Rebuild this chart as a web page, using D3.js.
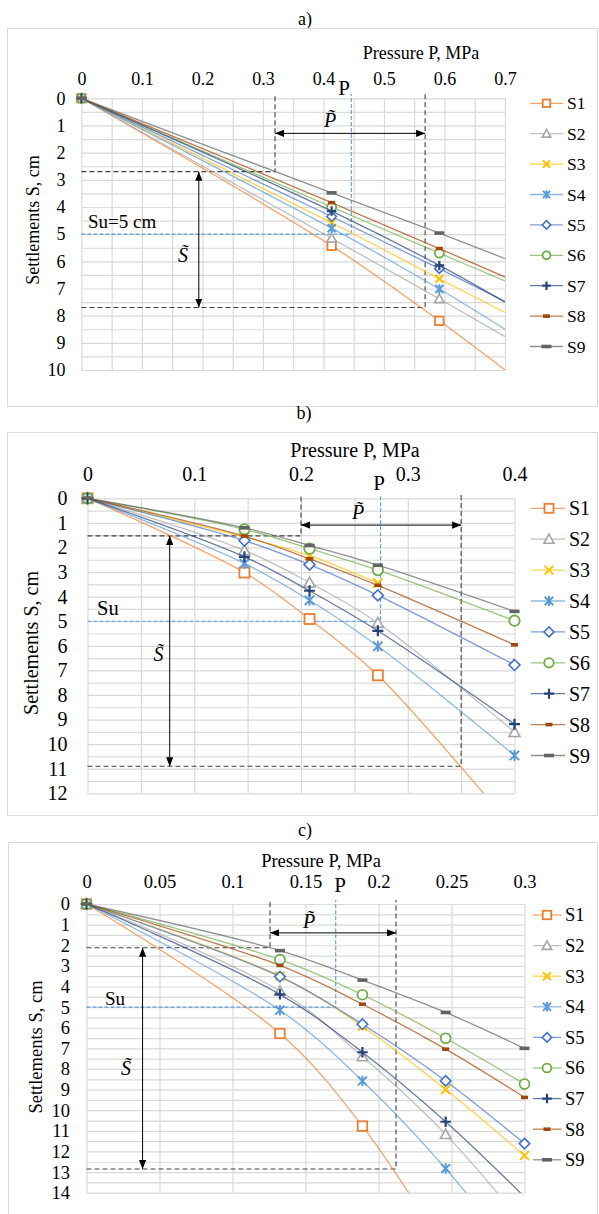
<!DOCTYPE html>
<html>
<head>
<meta charset="utf-8">
<script src="https://cdnjs.cloudflare.com/ajax/libs/d3/7.8.5/d3.min.js"></script>
<style>
body { margin: 0; background: #fff; }
svg { display: block; }
svg text { font-family: "Liberation Serif", "Times New Roman", serif; }
</style>
</head>
<body>
<svg id="chart" width="599" height="1214" font-family="Liberation Serif, serif"></svg>
<script>
// ---- data ----
var seriesNames = ["S1", "S2", "S3", "S4", "S5", "S6", "S7", "S8", "S9"];
var seriesColors = ["#ED7D31", "#A5A5A5", "#FFC000", "#5B9BD5", "#4472C4", "#70AD47", "#264478", "#9E480E", "#636363"];
var seriesShapes = ["square", "triangle", "x", "asterisk", "diamond", "circle", "plus", "shortDash", "longDash"];

// a)
var pressureA = [0, 0.4135, 0.5915, 0.7];
var markedA = [true, true, true, false];   // last point = trend end, no marker
var settlementA = [
  [0, 5.43, 8.19, 10.0],
  [0, 5.15, 7.38, 8.77],
  [0, 4.58, 6.64, 7.88],
  [0, 4.78, 7.02, 8.5],
  [0, 4.35, 6.27, 7.48],
  [0, 4.0, 5.7, 6.72],
  [0, 4.15, 6.15, 7.5],
  [0, 3.84, 5.53, 6.58],
  [0, 3.48, 4.96, 5.9]
];
var xTicksA = [0, 0.1, 0.2, 0.3, 0.4, 0.5, 0.6, 0.7];
var xLabelsA = ["0", "0.1", "0.2", "0.3", "0.4", "0.5", "0.6", "0.7"];
var yTicksA = [0, 1, 2, 3, 4, 5, 6, 7, 8, 9, 10];
var annotA = { pLo: 0.32, pHi: 0.568, sLo: 2.7, sHi: 7.7, pU: 0.446, sU: 5, arrowS: 1.29, arrowP: 0.194 };

// b)
var pressureB = [0, 0.147, 0.208, 0.272, 0.4];
var markedB = [true, true, true, true, true];
var settlementB = [
  [0, 3.02, 4.91, 7.2, 13.5],
  [0, 2.12, 3.43, 5.07, 9.51],
  [0, 1.58, 2.33, 3.45, null],
  [0, 2.65, 4.15, 6.02, 10.46],
  [0, 1.72, 2.7, 3.95, 6.78],
  [0, 1.26, 2.05, 2.92, 4.98],
  [0, 2.38, 3.76, 5.39, 9.19],
  [0, 1.54, 2.46, 3.54, 5.96],
  [0, 1.2, 1.92, 2.72, 4.6]
];
var xTicksB = [0, 0.1, 0.2, 0.3, 0.4];
var xLabelsB = ["0", "0.1", "0.2", "0.3", "0.4"];
var yTicksB = [0, 1, 2, 3, 4, 5, 6, 7, 8, 9, 10, 11, 12];
var annotB = { pLo: 0.2, pHi: 0.35, sLo: 1.53, sHi: 10.9, pU: 0.2745, sU: 5, arrowS: 1.09, arrowP: 0.077 };

// c)
var pressureC = [0, 0.1325, 0.189, 0.246, 0.3];
var markedC = [true, true, true, true, true];
var settlementC = [
  [0, 6.28, 10.77, 16.8, null],
  [0, 4.22, 7.4, 11.17, 15.6],
  [0, 3.5, 5.93, 9.0, 12.2],
  [0, 5.15, 8.58, 12.83, 17.6],
  [0, 3.52, 5.83, 8.58, 11.62],
  [0, 2.7, 4.4, 6.51, 8.73],
  [0, 4.38, 7.19, 10.56, 14.2],
  [0, 2.98, 4.86, 7.04, 9.38],
  [0, 2.26, 3.69, 5.26, 7.0]
];
var xTicksC = [0, 0.05, 0.1, 0.15, 0.2, 0.25, 0.3];
var xLabelsC = ["0", "0.05", "0.1", "0.15", "0.2", "0.25", "0.3"];
var yTicksC = [0, 1, 2, 3, 4, 5, 6, 7, 8, 9, 10, 11, 12, 13, 14];
var annotC = { pLo: 0.1257, pHi: 0.212, sLo: 2.12, sHi: 12.85, pU: 0.1707, sU: 5, arrowS: 1.4, arrowP: 0.0384 };

// ---- layout ----
var layoutA = {
  id: "a", title: "a)", titleX: 305, titleY: 25, frame: [7, 28, 590, 378],
  left: 81.4, right: 505, top: 98.3, bottom: 370, font: 18, legendFont: 17.5,
  xPad: 13, yPad: 16, xTitleX: 421, xTitleY: 59, yTitleX: 32.5, yTitleY: 220,
  legend: { x0: 530, x1: 563, xm: 546.5, xt: 567, y0: 103.3, dy: 30.4 },
  msize: 9.5, suText: "Su=5 cm", suX: 88, suY: 228, suFont: 19,
  pX: 344, pY: 95, ptX: 330, ptY: 127, stX: 183, stY: 262
};
var layoutB = {
  id: "b", title: "b)", titleX: 304, titleY: 419, frame: [7, 432, 590, 383],
  left: 87.5, right: 514.5, top: 498.3, bottom: 793.3, font: 20, legendFont: 20,
  xPad: 17, yPad: 20, xTitleX: 355, xTitleY: 457, yTitleX: 30.5, yTitleY: 643,
  legend: { x0: 531, x1: 565, xm: 549, xt: 569, y0: 508.3, dy: 30.9 },
  msize: 11, suText: "Su", suX: 97, suY: 615, suFont: 20.5,
  pX: 379, pY: 490, ptX: 358, ptY: 519, stX: 158.5, stY: 661
};
var layoutC = {
  id: "c", title: "c)", titleX: 305, titleY: 836, frame: [8, 842, 589, 380],
  left: 86.5, right: 524.5, top: 904, bottom: 1192.7, font: 18.5, legendFont: 18.5,
  xPad: 16, yPad: 16.5, xTitleX: 321, xTitleY: 867, yTitleX: 36, yTitleY: 1047,
  legend: { x0: 533, x1: 561.5, xm: 547, xt: 565, y0: 915, dy: 30.6 },
  msize: 10.5, suText: "Su", suX: 105, suY: 1005, suFont: 19,
  pX: 340, pY: 892, ptX: 309, ptY: 928, stX: 126, stY: 1075
};

var SERIF = "Liberation Serif, Times New Roman, serif";
var svg = d3.select("#chart");
var defs = svg.append("defs");
defs.append("marker")
    .attr("id", "arrow")
    .attr("viewBox", "0 0 10 8")
    .attr("refX", 10).attr("refY", 4)
    .attr("markerWidth", 9).attr("markerHeight", 7.2)
    .attr("markerUnits", "userSpaceOnUse")
    .attr("orient", "auto-start-reverse")
    .append("path").attr("d", "M0,0L10,4L0,8Z").attr("fill", "#000");

function drawMarker(g, shape, color, cx, cy, s) {
    var h = s / 2;
    if (shape === "square") {
        g.append("rect").attr("x", cx - h + 0.5).attr("y", cy - h + 0.5).attr("width", s - 1).attr("height", s - 1)
            .attr("fill", "#fff").attr("stroke", color).attr("stroke-width", 1.8);
    } else if (shape === "triangle") {
        g.append("path").attr("d", "M" + cx + "," + (cy - h) + "L" + (cx + h) + "," + (cy + h * 0.8) + "L" + (cx - h) + "," + (cy + h * 0.8) + "Z")
            .attr("fill", "#fff").attr("stroke", color).attr("stroke-width", 1.6);
    } else if (shape === "diamond") {
        g.append("path").attr("d", "M" + cx + "," + (cy - h) + "L" + (cx + h) + "," + cy + "L" + cx + "," + (cy + h) + "L" + (cx - h) + "," + cy + "Z")
            .attr("fill", "#fff").attr("stroke", color).attr("stroke-width", 1.6);
    } else if (shape === "circle") {
        g.append("circle").attr("cx", cx).attr("cy", cy).attr("r", h - 0.3)
            .attr("fill", "#fff").attr("stroke", color).attr("stroke-width", 1.8);
    } else if (shape === "x" || shape === "asterisk") {
        var k = h * 0.85;
        var d = "M" + (cx - k) + "," + (cy - k) + "L" + (cx + k) + "," + (cy + k) + "M" + (cx - k) + "," + (cy + k) + "L" + (cx + k) + "," + (cy - k);
        if (shape === "asterisk") d += "M" + cx + "," + (cy - h) + "L" + cx + "," + (cy + h);
        g.append("path").attr("d", d).attr("fill", "none").attr("stroke", color).attr("stroke-width", 2);
    } else if (shape === "plus") {
        g.append("path").attr("d", "M" + (cx - h) + "," + cy + "L" + (cx + h) + "," + cy + "M" + cx + "," + (cy - h) + "L" + cx + "," + (cy + h))
            .attr("fill", "none").attr("stroke", color).attr("stroke-width", 2.2);
    } else if (shape === "shortDash") {
        g.append("rect").attr("x", cx - 3.5).attr("y", cy - 1.8).attr("width", 7).attr("height", 3.6).attr("fill", color);
    } else if (shape === "longDash") {
        g.append("rect").attr("x", cx - 5).attr("y", cy - 1.8).attr("width", 10).attr("height", 3.6).attr("fill", color);
    }
}

function drawPanel(L, pressure, settlement, marked, xTicks, xLabels, yTicks, A) {
    var g = svg.append("g").attr("font-family", SERIF);
    var xMax = xTicks[xTicks.length - 1], yMax = yTicks[yTicks.length - 1];
    var x = d3.scaleLinear().domain([0, xMax]).range([L.left, L.right]);
    var y = d3.scaleLinear().domain([0, yMax]).range([L.top, L.bottom]);
    var w = L.right - L.left, h = L.bottom - L.top;

    g.append("text").attr("x", L.titleX).attr("y", L.titleY).attr("text-anchor", "middle")
        .attr("font-size", 18).text(L.title);
    g.append("rect").attr("x", L.frame[0] + 0.5).attr("y", L.frame[1] + 0.5)
        .attr("width", L.frame[2]).attr("height", L.frame[3])
        .attr("fill", "none").attr("stroke", "#d9d9d9");

    // grid
    g.append("g").attr("transform", "translate(0," + L.bottom + ")")
        .call(d3.axisBottom(x).tickValues(d3.range(0, xMax + 1e-9, 0.05)).tickSize(-h).tickFormat(""))
        .call(function (s) { s.select(".domain").remove(); })
        .selectAll("line").attr("stroke", "#d9d9d9").attr("stroke-width", 1.2);
    g.append("g").attr("transform", "translate(" + L.left + ",0)")
        .call(d3.axisLeft(y).tickValues(d3.range(0, yMax + 1e-9, 0.5)).tickSize(-w).tickFormat(""))
        .call(function (s) { s.select(".domain").remove(); })
        .selectAll("line").attr("stroke", "#d9d9d9").attr("stroke-width", 1.2);

    // tick labels
    var xa = g.append("g").attr("transform", "translate(0," + L.top + ")")
        .call(d3.axisTop(x).tickValues(xTicks).tickSize(0).tickPadding(L.xPad)
            .tickFormat(function (d, i) { return xLabels[i]; }));
    var ya = g.append("g").attr("transform", "translate(" + L.left + ",0)")
        .call(d3.axisLeft(y).tickValues(yTicks).tickSize(0).tickPadding(L.yPad));
    [xa, ya].forEach(function (a) {
        a.select(".domain").remove();
        a.attr("font-family", SERIF).attr("font-size", L.font);
        a.selectAll("text").attr("font-family", SERIF).attr("font-size", L.font).attr("fill", "#000");
    });

    g.append("text").attr("x", L.xTitleX).attr("y", L.xTitleY).attr("text-anchor", "middle")
        .attr("font-size", L.font).text("Pressure P, MPa");
    g.append("text").attr("transform", "translate(" + L.yTitleX + "," + L.yTitleY + ") rotate(-90)")
        .attr("text-anchor", "middle").attr("dy", "0.35em")
        .attr("font-size", L.font).text("Settlements S, cm");

    // annotations
    var topY = L.top - 4;
    g.append("path")
        .attr("d", "M" + x(0) + "," + y(A.sLo) + "H" + x(A.pLo) + "V" + topY +
                   "M" + x(0) + "," + y(A.sHi) + "H" + x(A.pHi) + "V" + topY)
        .attr("fill", "none").attr("stroke", "#404040").attr("stroke-width", 1.1).attr("stroke-dasharray", "5,3");
    g.append("path")
        .attr("d", "M" + x(0) + "," + y(A.sU) + "H" + x(A.pU) + "V" + topY)
        .attr("fill", "none").attr("stroke", "#5B9BD5").attr("stroke-width", 1.1).attr("stroke-dasharray", "4,2");

    // series
    var clipId = "clip-" + L.id;
    defs.append("clipPath").attr("id", clipId).append("rect")
        .attr("x", L.left).attr("y", L.top).attr("width", w).attr("height", h);
    var line = d3.line().x(function (d) { return x(d[0]); }).y(function (d) { return y(d[1]); })
        .curve(d3.curveCatmullRom.alpha(0.5));

    settlement.forEach(function (vals, i) {
        var pts = [];
        pressure.forEach(function (p, j) { if (vals[j] != null) pts.push([p, vals[j], j]); });
        g.append("path").attr("d", line(pts)).attr("clip-path", "url(#" + clipId + ")")
            .attr("fill", "none").attr("stroke", seriesColors[i]).attr("stroke-opacity", 0.7)
            .attr("stroke-width", 1.3);
        var mg = g.append("g");
        pts.forEach(function (d) {
            if (marked[d[2]] && d[1] <= yMax) drawMarker(mg, seriesShapes[i], seriesColors[i], x(d[0]), y(d[1]), L.msize);
        });
    });

    // arrows
    g.append("line").attr("x1", x(A.pLo)).attr("x2", x(A.pHi)).attr("y1", y(A.arrowS)).attr("y2", y(A.arrowS))
        .attr("stroke", "#000").attr("stroke-width", 1)
        .attr("marker-start", "url(#arrow)").attr("marker-end", "url(#arrow)");
    g.append("line").attr("x1", x(A.arrowP)).attr("x2", x(A.arrowP)).attr("y1", y(A.sLo)).attr("y2", y(A.sHi))
        .attr("stroke", "#000").attr("stroke-width", 1)
        .attr("marker-start", "url(#arrow)").attr("marker-end", "url(#arrow)");

    g.append("text").attr("x", L.suX).attr("y", L.suY).attr("font-size", L.suFont).text(L.suText);
    g.append("text").attr("x", L.pX).attr("y", L.pY).attr("text-anchor", "middle").attr("font-size", 21).text("P");
    g.append("text").attr("x", L.ptX).attr("y", L.ptY).attr("text-anchor", "middle").attr("font-size", 20)
        .attr("font-style", "italic").text("P\u0303");
    g.append("text").attr("x", L.stX).attr("y", L.stY).attr("text-anchor", "middle").attr("font-size", 20)
        .attr("font-style", "italic").text("S\u0303");

    // legend
    var lg = g.append("g");
    seriesNames.forEach(function (name, i) {
        var ly = L.legend.y0 + i * L.legend.dy;
        lg.append("line").attr("x1", L.legend.x0).attr("x2", L.legend.x1).attr("y1", ly).attr("y2", ly)
            .attr("stroke", seriesColors[i]).attr("stroke-opacity", 0.7).attr("stroke-width", 1.3);
        drawMarker(lg, seriesShapes[i], seriesColors[i], L.legend.xm, ly, L.msize - 1);
        lg.append("text").attr("x", L.legend.xt).attr("y", ly).attr("dy", "0.35em")
            .attr("font-size", L.legendFont).text(name);
    });
}

drawPanel(layoutA, pressureA, settlementA, markedA, xTicksA, xLabelsA, yTicksA, annotA);
drawPanel(layoutB, pressureB, settlementB, markedB, xTicksB, xLabelsB, yTicksB, annotB);
drawPanel(layoutC, pressureC, settlementC, markedC, xTicksC, xLabelsC, yTicksC, annotC);
</script>
</body>
</html>
